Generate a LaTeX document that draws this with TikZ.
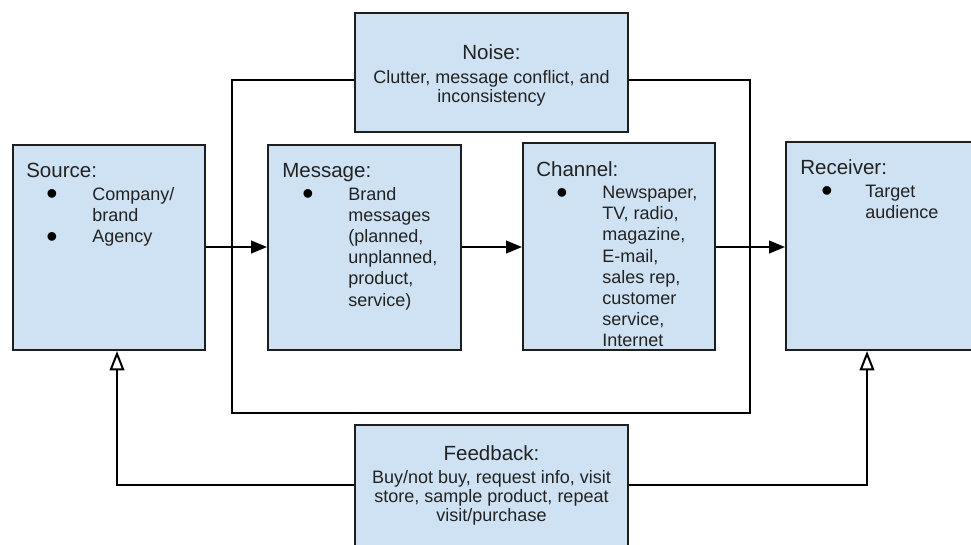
\documentclass[tikz,border=0pt]{standalone}
\usepackage{fontspec}
\setmainfont{Liberation Sans}
\usetikzlibrary{arrows.meta,fit}

\definecolor{boxfill}{HTML}{CFE2F3}
\definecolor{boxline}{HTML}{1E1E1E}
\definecolor{ink}{HTML}{222222}

\newcommand\ttlfont{\fontsize{15.4}{18}\selectfont}
\newcommand\bodyfont{\fontsize{13.5}{16}\selectfont}
\newcommand\dotfont{\fontsize{24}{24}\selectfont}

\tikzset{
  box/.style={draw=boxline, fill=boxfill, line width=1.5pt, inner sep=0pt},
  ttl/.style={anchor=base west, inner sep=0pt, font=\ttlfont, text=ink},
  txt/.style={anchor=base west, inner sep=0pt, font=\bodyfont, text=ink},
  ctr/.style={anchor=base, inner sep=0pt, font=\bodyfont, text=ink},
  ctrttl/.style={anchor=base, inner sep=0pt, font=\ttlfont, text=ink},
  dot/.style={anchor=base, inner sep=0pt, font=\dotfont, text=black},
  conn/.style={line width=1.5pt, black},
  fwd/.style={conn, -{Triangle[length=12pt, width=9.5pt]}},
  back/.style={conn, -{Triangle[open, length=14.5pt, width=11pt]}},
}

\begin{document}
\begin{tikzpicture}[x=0.75pt, y=-0.75pt]
  \useasboundingbox (0,0) rectangle (971,544);
  \clip (0,0) rectangle (971,544);

  % the five stages and the noise block
  \node[box, fit={(13,145) (205,350)}]  (src)   {};
  \node[box, fit={(268,145) (461,350)}] (msg)   {};
  \node[box, fit={(523,143) (715,350)}] (chn)   {};
  \node[box, fit={(786,142) (990,350)}] (rcv)   {};
  \node[box, fit={(355,13) (628,132)}]  (noise) {};
  \node[box, fit={(355,425) (628,560)}] (fb)    {};

  % Source
  \node[ttl] (srcT) at (26,177) {Source:};
  \node[dot] (srcB1) at (52,204.6) {•};
  \node[dot] (srcB2) at (52,247) {•};
  \foreach \t [count=\i from 0] in {Company/, brand, Agency}
    \node[txt] (src-\i) at (92,200+21.2*\i) {\t};

  % Message
  \node[ttl] (msgT) at (282,177) {Message:};
  \node[dot] (msgB1) at (308,204.6) {•};
  \foreach \t [count=\i from 0] in {Brand, messages, {(planned,}, {unplanned,}, {product,}, service)}
    \node[txt] (msg-\i) at (348,200+21.2*\i) {\t};

  % Channel
  \node[ttl] (chnT) at (536,176) {Channel:};
  \node[dot] (chnB1) at (562,203.1) {•};
  \foreach \t [count=\i from 0] in {{Newspaper,}, {TV, radio,}, {magazine,}, {E-mail,}, {sales rep,}, customer, {service,}, Internet}
    \node[txt] (chn-\i) at (602,198.5+21.2*\i) {\t};

  % Receiver
  \node[ttl] (rcvT) at (800,174) {Receiver:};
  \node[dot] (rcvB1) at (827,201.6) {•};
  \foreach \t [count=\i from 0] in {Target, audience}
    \node[txt] (rcv-\i) at (865,197+21.2*\i) {\t};

  % Noise
  \node[ctrttl] (noiseT) at (491.5,59) {Noise:};
  \node[ctr] (noise-0) at (491.5,83) {Clutter, message conflict, and};
  \node[ctr] (noise-1) at (491.5,102.5) {inconsistency};

  % Feedback
  \node[ctrttl] (fbT) at (491.5,460) {Feedback:};
  \node[ctr] (fb-0) at (491.5,483) {Buy/not buy, request info, visit};
  \node[ctr] (fb-1) at (491.5,502) {store, sample product, repeat};
  \node[ctr] (fb-2) at (491.5,521) {visit/purchase};

  % forward flow
  \coordinate (ay) at (0,247);
  \draw[fwd] (src.east |- ay) -- (msg.west |- ay);
  \draw[fwd] (msg.east |- ay) -- (chn.west |- ay);
  \draw[fwd] (chn.east |- ay) -- (rcv.west |- ay);

  % noise frame around message and channel
  \coordinate (nTL) at (232,80);
  \coordinate (nBL) at (232,413);
  \coordinate (nBR) at (750,413);
  \coordinate (nTR) at (750,80);
  \draw[conn] (noise.west |- nTL) -- (nTL) -- (nBL) -- (nBR) -- (nTR) -- (noise.east |- nTR);

  % feedback loops
  \coordinate (fbL) at (117,485);
  \coordinate (fbR) at (867,485);
  \draw[back] (fb.west |- fbL) -- (fbL) -- (fbL |- src.south);
  \draw[back] (fb.east |- fbR) -- (fbR) -- (fbR |- rcv.south);
\end{tikzpicture}
\end{document}
